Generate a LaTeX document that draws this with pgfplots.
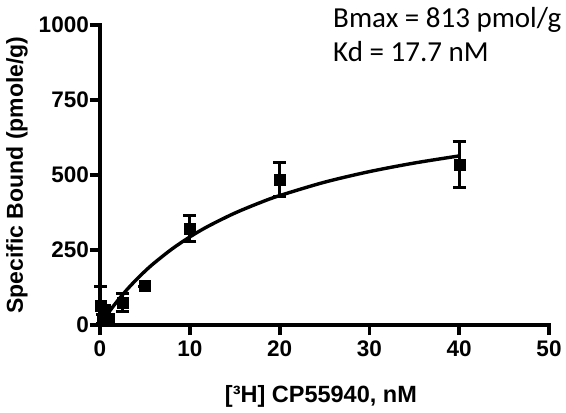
\documentclass[border=0pt]{standalone}
\usepackage{fontspec}
\setmainfont{Liberation Sans}
\newfontfamily\calibri{Carlito}
\usepackage{pgfplots}
\pgfplotsset{compat=1.18}
\begin{document}
\begin{tikzpicture}
\begin{axis}[
    name=ax,
    scale only axis,
    width=449pt, height=300pt,
    xmin=0, xmax=50, ymin=0, ymax=1000,
    axis lines*=left,
    axis line style={line width=4.4pt, line cap=rect},
    tick align=outside,
    major tick length=10pt,
    tick style={line width=3.8pt, black},
    xtick={0,10,20,30,40,50},
    ytick={0,250,500,750,1000},
    /pgf/number format/assume math mode=true,
    /pgf/number format/1000 sep={},
    ticklabel style={font=\bfseries\fontsize{22.5}{27}\selectfont, inner sep=1pt},
    xticklabel style={yshift=-5pt},
    xlabel={[³H] CP55940, nM},
    xlabel style={font=\bfseries\fontsize{23.5}{28}\selectfont, at={(axis description cs:0.492,-0.257)}, anchor=base},
    ylabel={Specific Bound (pmole/g)},
    ylabel style={font=\bfseries\fontsize{23}{27}\selectfont, at={(axis description cs:-0.185,0.5)}, anchor=center},
    clip=false,
]
% one-site fit, Bmax = 813, Kd = 17.7
\addplot[line width=3.4pt, black, smooth, no marks] coordinates {
    (0,0) (0.25,11.3) (0.5,22.3) (1,43.5) (2,82.5) (3,117.8) (4,149.9)
    (5,179.1) (6,205.8) (8,253.1) (10,293.5) (12,328.5) (15,372.9)
    (18,409.9) (20,431.3) (25,476.0) (30,511.3) (35,539.9) (40,563.6)
};
\addplot[only marks, mark=square*, mark size=5.5pt, black,
    error bars/.cd, y dir=both, y explicit,
    error mark options={rotate=90, mark size=6.5pt, line width=3pt},
    error bar style={line width=3pt}]
coordinates {
    (0.1,65)  +- (0,62)
    (0.25,20) +- (0,15)
    (0.5,45)  +- (0,20)
    (1,22)    +- (0,12)
    (2.5,75)  +- (0,30)
    (5,130)   +- (0,0)
    (10,322)  +- (0,42)
    (20,485)  +- (0,58)
    (40,535)  +- (0,75)
};
\node[anchor=base west, inner sep=0pt, font=\calibri\fontsize{29}{35}\selectfont]
    at (axis description cs:0.519,0.993) {Bmax = 813 pmol/g};
\node[anchor=base west, inner sep=0pt, font=\calibri\fontsize{29}{35}\selectfont]
    at (axis description cs:0.519,0.877) {Kd = 17.7 nM};
\end{axis}
\pgfresetboundingbox
\path ([shift={(-100pt,-87pt)}]ax.south west) rectangle ([shift={(17pt,25pt)}]ax.north east);
\end{tikzpicture}
\end{document}
